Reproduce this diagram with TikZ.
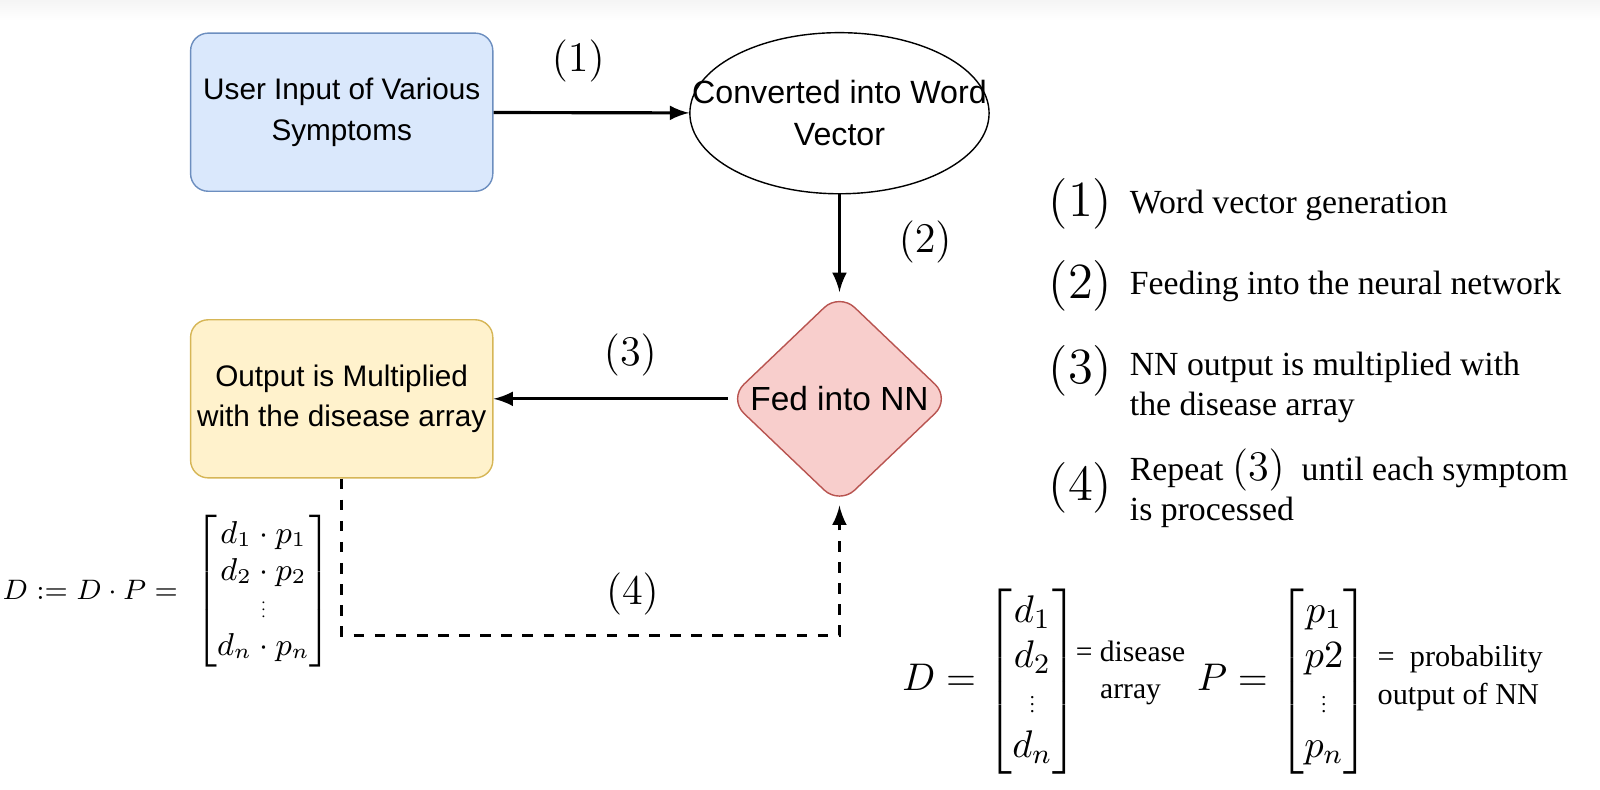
\documentclass[tikz,border=0pt]{standalone}
\usepackage{amsmath}
\usepackage{fontspec}
\setmainfont{Liberation Serif}
\setsansfont{Liberation Sans}
\usetikzlibrary{shapes.geometric}
\definecolor{bluefill}{HTML}{DAE8FC}
\definecolor{blueline}{HTML}{6C8EBF}
\definecolor{yellowfill}{HTML}{FFF2CC}
\definecolor{yellowline}{HTML}{D6B656}
\definecolor{redfill}{HTML}{F8CECC}
\definecolor{redline}{HTML}{B85450}
\newcommand{\smallvdots}{\scalebox{0.5}{$\vdots$}}
\begin{document}
\begin{tikzpicture}[>=latex, x=0.0102cm, y=-0.0102cm,
    flow/.style={align=center, font=\sffamily\fontsize{8.45}{11.6}\selectfont},
    box/.style={flow, draw, rounded corners=5pt, inner xsep=1pt, minimum width=3.02cm, minimum height=1.58cm},
    num/.style={font=\fontsize{12.2}{14}\selectfont},
    key/.style={anchor=east, inner sep=0, font=\fontsize{13.5}{15}\selectfont},
    legend/.style={anchor=west, inner sep=0, align=left, font=\fontsize{9.6}{11.4}\selectfont},
    eqn/.style={anchor=west, inner sep=0},
    link/.style={line width=.9pt}]
\useasboundingbox (0,0) rectangle (1568.6,774.5);
\shade[top color=black!4, bottom color=white] (0,0) rectangle (1568.6,20);

\node[box, fill=bluefill, draw=blueline] (input) at (335,110) {User Input of Various\\Symptoms};
\node[flow, draw, ellipse, inner sep=-.6cm, minimum width=2.99cm, minimum height=1.61cm,
      font=\sffamily\fontsize{9.15}{12}\selectfont] (vec) at (823,111) {Converted into Word\\Vector};
\node[flow, draw=redline, fill=redfill, diamond, rounded corners=6pt, inner sep=-.7cm,
      minimum width=2.22cm, minimum height=2.12cm, font=\sffamily\fontsize{9.5}{11}\selectfont] (nn) at (823,391) {Fed into NN};
\node[box, fill=yellowfill, draw=yellowline] (mult) at (335,391) {Output is Multiplied\\with the disease array};
\coordinate (turn) at (335,623);

\draw[link,->] (input) -- (vec);
\draw[link,->] (vec) -- (nn);
\draw[link,->] (nn) -- (mult);
\draw[link,->,dashed] (mult) -- (turn) -| (nn);

\node[num] (l1) at (567,60) {$(1)$};
\node[num] (l2) at (907,237) {$(2)$};
\node[num] (l3) at (618,348) {$(3)$};
\node[num] (l4) at (620,582) {$(4)$};

% legend
\foreach \n/\yn/\yt/\t in {1/200/201/{Word vector generation},
    2/280/281/{Feeding into the neural network},
    3/364/380/{NN output is multiplied with\\the disease array},
    4/478/479/{Repeat {\fontsize{12}{14}\selectfont$(3)$}\ \ until each symptom\\is processed}}
{
    \node[key] (key\n) at (1091,\yn) {$(\n)$};
    \node[legend] (txt\n) at (1107,\yt) {\t};
}

\node[eqn] (update) at (2,580)
    {{\fontsize{8.2}{10}\selectfont$D := D\cdot P =$}\ \ {\fontsize{8.7}{10.6}\selectfont$\begin{bmatrix} d_1\cdot p_1\\ d_2\cdot p_2\\ \smallvdots\\ d_n\cdot p_n \end{bmatrix}$}};
\node[eqn, font=\fontsize{11.3}{12.8}\selectfont] (darr) at (884,668)
    {$D = \begin{bmatrix} d_1\\ d_2\\ \smallvdots\\ d_n \end{bmatrix}$};
\node[eqn, align=center, font=\fontsize{8.4}{10.6}\selectfont] (dtxt) at ([xshift=-1pt]darr.east |- 0,660) {= disease\\array};
\node[eqn, font=\fontsize{11.3}{12.8}\selectfont] (parr) at ([xshift=3pt]dtxt.east |- 0,668)
    {$P = \begin{bmatrix} p_1\\ p2\\ \smallvdots\\ p_n \end{bmatrix}$};
\node[eqn, align=left, font=\fontsize{8.6}{10.6}\selectfont] (ptxt) at ([xshift=2pt]parr.east |- 0,665) {=\ \ probability\\output of NN};
\end{tikzpicture}
\end{document}
